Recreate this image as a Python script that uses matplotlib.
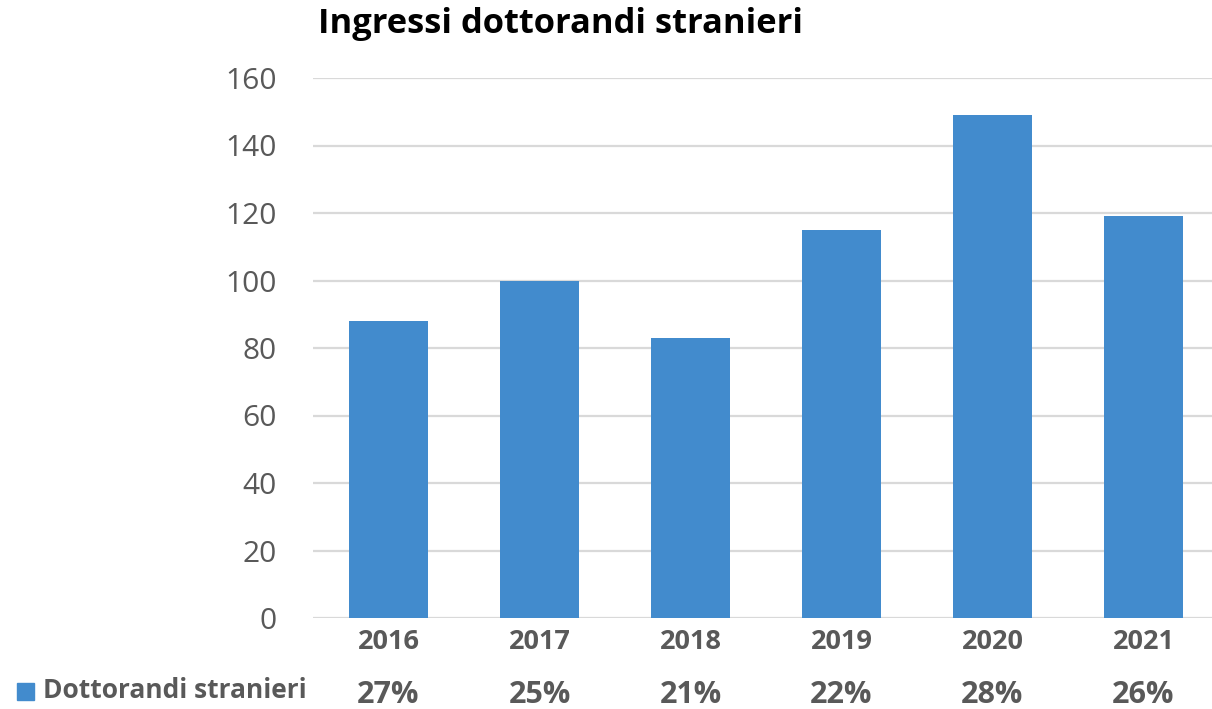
import matplotlib
matplotlib.use("Agg")
import matplotlib.pyplot as plt
from matplotlib.patches import Rectangle
from matplotlib.transforms import blended_transform_factory

years = ["2016", "2017", "2018", "2019", "2020", "2021"]
values = [88, 100, 83, 115, 149, 119]
shares = ["27%", "25%", "21%", "22%", "28%", "26%"]
series_name = "Dottorandi stranieri"
title = "Ingressi dottorandi stranieri"
yticks = [0, 20, 40, 60, 80, 100, 120, 140, 160]

W, H = 1212, 709
bar_color = "#428BCD"
text_gray = "#595959"
grid_gray = "#D9D9D9"
plt.rcParams['font.family'] = ['Open Sans', 'DejaVu Sans']

fig = plt.figure(figsize=(W / 100, H / 100), dpi=100)
ax = fig.add_axes([313 / W, 91 / H, 906 / W, 540 / H])

x = list(range(len(years)))
ax.bar(x, values, width=0.52, color=bar_color, zorder=3)
ax.set_xlim(-0.5, len(years) - 0.5)
ax.set_ylim(0, 160)
ax.set_yticks(yticks)
ax.set_yticklabels([str(v) for v in yticks], fontsize=21.5, color=text_gray)
ax.tick_params(axis='y', length=0, pad=26)
ax.set_xticks([])
for s in ax.spines.values():
    s.set_visible(False)
ax.grid(axis='y', color=grid_gray, linewidth=1.6, zorder=0)
ax.set_axisbelow(True)

tr = blended_transform_factory(ax.transData, fig.transFigure)
for xi, yr, sh in zip(x, years, shares):
    ax.text(xi, 1 - 642 / H, yr, transform=tr, ha='center', va='center',
            fontsize=19.5, fontweight='bold', color=text_gray)
    ax.text(xi, 1 - 695 / H, sh, transform=tr, ha='center', va='center',
            fontsize=22, fontweight='bold', color=text_gray)

fig.text(561 / W, 1 - 24 / H, title, ha='center', va='center',
         fontsize=24.8, fontweight='bold', color='black')

fig.add_artist(Rectangle((17 / W, 1 - 700 / H), 17 / W, 17 / H,
                         transform=fig.transFigure, color=bar_color))
fig.text(43 / W, 1 - 691 / H, series_name, ha='left', va='center',
         fontsize=19, fontweight='bold', color=text_gray)

fig.savefig("out.png", dpi=100)
